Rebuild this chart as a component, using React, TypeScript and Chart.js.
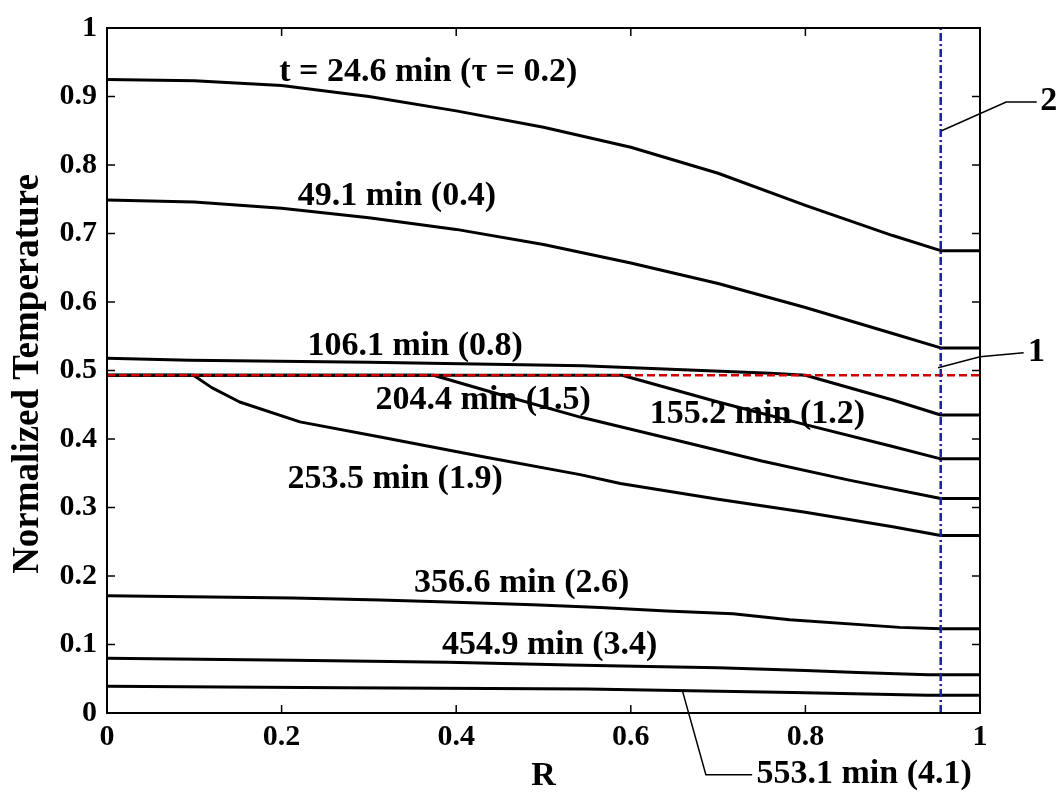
import React, { useEffect, useRef } from "react";
import { Chart, registerables } from "chart.js";

Chart.register(...registerables);

// ---- data ----
const xTicks = [0, 0.2, 0.4, 0.6, 0.8, 1];
const yTicks = [0, 0.1, 0.2, 0.3, 0.4, 0.5, 0.6, 0.7, 0.8, 0.9, 1];

const r1 = [0, 0.1, 0.2, 0.3, 0.4, 0.5, 0.6, 0.7, 0.8, 0.9, 0.955, 1];
const t1 = [0.925, 0.923, 0.916, 0.9, 0.879, 0.855, 0.826, 0.788, 0.741, 0.697, 0.675, 0.675];

const r2 = [0, 0.1, 0.2, 0.3, 0.4, 0.5, 0.6, 0.7, 0.8, 0.9, 0.955, 1];
const t2 = [0.749, 0.746, 0.737, 0.723, 0.706, 0.684, 0.657, 0.627, 0.592, 0.554, 0.533, 0.533];

const r3 = [0, 0.095, 0.3, 0.545, 0.76, 0.8, 0.9, 0.955, 1];
const t3 = [0.518, 0.515, 0.512, 0.507, 0.496, 0.493, 0.457, 0.435, 0.435];

const r4 = [0, 0.59, 0.7, 0.8, 0.9, 0.955, 1];
const t4 = [0.493, 0.493, 0.454, 0.421, 0.389, 0.371, 0.371];

const r5 = [0, 0.374, 0.45, 0.542, 0.65, 0.75, 0.85, 0.955, 1];
const t5 = [0.493, 0.493, 0.465, 0.432, 0.399, 0.368, 0.34, 0.313, 0.313];

const r6 = [0, 0.099, 0.12, 0.152, 0.221, 0.313, 0.431, 0.542, 0.588, 0.7, 0.8, 0.9, 0.955, 1];
const t6 = [0.493, 0.493, 0.475, 0.454, 0.425, 0.403, 0.374, 0.348, 0.335, 0.312, 0.293, 0.272, 0.259, 0.259];

const r7 = [0, 0.213, 0.313, 0.39, 0.488, 0.565, 0.641, 0.717, 0.782, 0.908, 0.955, 1];
const t7 = [0.171, 0.168, 0.165, 0.162, 0.158, 0.154, 0.149, 0.145, 0.136, 0.125, 0.123, 0.123];

const r8 = [0, 0.213, 0.39, 0.53, 0.62, 0.7, 0.8, 0.86, 0.94, 1];
const t8 = [0.08, 0.077, 0.074, 0.07, 0.068, 0.066, 0.062, 0.059, 0.056, 0.056];

const r9 = [0, 0.27, 0.55, 0.786, 0.94, 1];
const t9 = [0.039, 0.037, 0.035, 0.03, 0.026, 0.026];

const boundaryR = 0.955; // line 2
const plateauT = 0.493; // line 1

const curveLabels = [
  "t = 24.6 min (\u03c4 = 0.2)",
  "49.1 min (0.4)",
  "106.1 min (0.8)",
  "204.4 min (1.5)",
  "155.2 min (1.2)",
  "253.5 min (1.9)",
  "356.6 min (2.6)",
  "454.9 min (3.4)",
  "553.1 min (4.1)",
];

// ---- annotation placement (data coordinates) ----
const labelPos: [number, number, string][] = [
  [0.368, 0.935, "center"],
  [0.332, 0.755, "center"],
  [0.353, 0.536, "center"],
  [0.431, 0.457, "center"],
  [0.745, 0.436, "center"],
  [0.33, 0.342, "center"],
  [0.475, 0.19, "center"],
  [0.507, 0.099, "center"],
  [0.744, -0.09, "left"],
];

const FONT = '"Liberation Serif", "Times New Roman", serif';

const zip = (xs: number[], ys: number[]) => xs.map((x, i) => ({ x, y: ys[i] }));

const annotPlugin = {
  id: "annot",
  afterDraw(chart: any) {
    const { ctx, chartArea: ca, scales } = chart;
    const xs = scales.x;
    const ys = scales.y;
    const px = (v: number) => xs.getPixelForValue(v);
    const py = (v: number) => ys.getPixelForValue(v);
    ctx.save();
    // frame
    ctx.strokeStyle = "#000";
    ctx.lineWidth = 2;
    ctx.strokeRect(ca.left, ca.top, ca.right - ca.left, ca.bottom - ca.top);
    // inward ticks
    ctx.lineWidth = 1.5;
    const tl = 8;
    ctx.beginPath();
    xTicks.forEach((v) => {
      const x = px(v);
      ctx.moveTo(x, ca.bottom);
      ctx.lineTo(x, ca.bottom - tl);
      ctx.moveTo(x, ca.top);
      ctx.lineTo(x, ca.top + tl);
    });
    yTicks.forEach((v) => {
      const y = py(v);
      ctx.moveTo(ca.left, y);
      ctx.lineTo(ca.left + tl, y);
      ctx.moveTo(ca.right, y);
      ctx.lineTo(ca.right - tl, y);
    });
    ctx.stroke();

    // leader lines
    ctx.lineWidth = 1.5;
    ctx.beginPath();
    ctx.moveTo(px(0.952), py(0.504));
    ctx.lineTo(px(1.0), py(0.52));
    ctx.lineTo(px(1.05), py(0.526));
    ctx.moveTo(px(0.956), py(0.85));
    ctx.lineTo(px(1.03), py(0.892));
    ctx.lineTo(px(1.065), py(0.892));
    ctx.moveTo(px(0.659), py(0.033));
    ctx.lineTo(px(0.686), py(-0.09));
    ctx.lineTo(px(0.739), py(-0.09));
    ctx.stroke();

    // curve labels
    ctx.fillStyle = "#000";
    ctx.font = `bold 34px ${FONT}`;
    ctx.textBaseline = "middle";
    curveLabels.forEach((t, i) => {
      const [lx, ly, al] = labelPos[i];
      ctx.textAlign = al as CanvasTextAlign;
      ctx.fillText(t, px(lx), py(ly));
    });
    ctx.textAlign = "left";
    ctx.fillText("1", px(1.055), py(0.526));
    ctx.fillText("2", px(1.069), py(0.893));

    // axis titles
    ctx.textAlign = "center";
    ctx.font = `bold 34px ${FONT}`;
    ctx.fillText("R", (ca.left + ca.right) / 2, 776);
    ctx.font = `bold 37px ${FONT}`;
    ctx.translate(28, 374);
    ctx.rotate(-Math.PI / 2);
    ctx.fillText("Normalized Temperature", 0, 0);
    ctx.restore();
  },
};

export default function App() {
  const ref = useRef<HTMLCanvasElement | null>(null);
  useEffect(() => {
    if (!ref.current) return;
    const black = (xs: number[], ys: number[]) => ({
      data: zip(xs, ys),
      borderColor: "#000",
      borderWidth: 3,
      pointRadius: 0,
      tension: 0,
      borderJoinStyle: "round",
      fill: false,
    });
    const tickFont = { family: FONT, weight: "bold" as const, size: 30 };
    const chart = new Chart(ref.current, {
      type: "line",
      data: {
        datasets: [
          {
            data: [
              { x: boundaryR, y: 0 },
              { x: boundaryR, y: 1 },
            ],
            borderColor: "#1c1cb0",
            borderWidth: 2.5,
            borderDash: [8, 3, 2, 3],
            pointRadius: 0,
            fill: false,
          },
          {
            data: [
              { x: 0, y: plateauT },
              { x: 1, y: plateauT },
            ],
            borderColor: "#d40000",
            borderWidth: 2.5,
            borderDash: [8, 4],
            pointRadius: 0,
            fill: false,
          },
          black(r1, t1),
          black(r2, t2),
          black(r3, t3),
          black(r4, t4),
          black(r5, t5),
          black(r6, t6),
          black(r7, t7),
          black(r8, t8),
          black(r9, t9),
        ] as any,
      },
      options: {
        responsive: false,
        animation: false,
        layout: { padding: { left: 0, top: 23, right: 84, bottom: 0 } },
        plugins: { legend: { display: false }, tooltip: { enabled: false } },
        scales: {
          x: {
            type: "linear",
            min: 0,
            max: 1,
            afterBuildTicks: (s: any) => {
              s.ticks = xTicks.map((v) => ({ value: v }));
            },
            afterFit: (s: any) => {
              s.height = 81;
            },
            ticks: {
              font: tickFont,
              color: "#000",
              padding: 6,
              maxRotation: 0,
              callback: (v: any) => String(Math.round(Number(v) * 10) / 10),
            },
            grid: { display: false, drawTicks: false, tickLength: 0 },
            border: { display: false },
          },
          y: {
            type: "linear",
            min: 0,
            max: 1,
            afterBuildTicks: (s: any) => {
              s.ticks = yTicks.map((v) => ({ value: v }));
            },
            afterFit: (s: any) => {
              s.width = 107;
            },
            ticks: {
              font: tickFont,
              color: "#000",
              padding: 10,
              callback: (v: any) => String(Math.round(Number(v) * 10) / 10),
            },
            grid: { display: false, drawTicks: false, tickLength: 0 },
            border: { display: false },
          },
        },
      } as any,
      plugins: [annotPlugin],
    });
    return () => chart.destroy();
  }, []);
  return (
    <div style={{ position: "absolute", left: 0, top: 0, width: 1064, height: 794, background: "#fff" }}>
      <canvas ref={ref} width={1064} height={794} />
    </div>
  );
}
